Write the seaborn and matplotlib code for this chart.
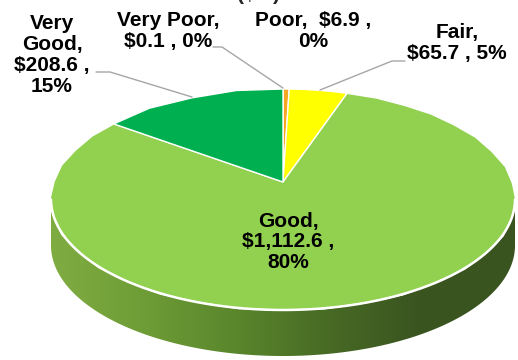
import numpy as np
import matplotlib
matplotlib.use("Agg")
import matplotlib.pyplot as plt
from matplotlib.patches import Polygon
from matplotlib.colors import LinearSegmentedColormap
import seaborn as sns

# ---- data ----
categories = ["Very Poor", "Poor", "Fair", "Good", "Very Good"]
values = [0.1, 6.9, 65.7, 1112.6, 208.6]
value_labels = ["$0.1", "$6.9", "$65.7", "$1,112.6", "$208.6"]
pct_labels = ["0%", "0%", "5%", "80%", "15%"]
colors = ["#E0301E", "#F5A623", "#FFFF00", "#92D050", "#00B050"]

sns.set_theme(style="white")
plt.rcParams["font.family"] = ["Liberation Sans", "DejaVu Sans"]

W, H = 518, 360
fig = plt.figure(figsize=(W / 100, H / 100), dpi=100)
ax = fig.add_axes([0, 0, 1, 1])

# ---- perspective view of the pie disc (layout only) ----
CX, CY = 283.0, 182.0      # image of disc centre
TOP, BOT = 89.0, 310.0     # image of far / near rim
HALFW = 232.0              # half of the widest extent
DEPTH = 46.0               # thickness of the side, px
K = (2 * CY - TOP - BOT) / (TOP - BOT)
P = TOP + TOP * K - CY
G = HALFW * np.sqrt(1 - K ** 2)


def persp(uv):
    uv = np.asarray(uv, dtype=float)
    u, v = uv[:, 0], uv[:, 1]
    d = 1 + K * v
    return np.column_stack([CX + G * u / d, (P * v + CY) / d])


# ---- top face built from the library's pie wedges ----
wedges, _ = ax.pie(values, colors=colors, startangle=90, counterclock=False,
                   radius=1)
for w, c in zip(wedges, colors):
    w.set_visible(False)
    poly = w.get_path().to_polygons()[0]
    ax.add_patch(Polygon(persp(poly), closed=True, facecolor=c,
                         edgecolor="white", linewidth=1.0, zorder=2))

# ---- side (front part, all inside 'Good') ----
a0 = np.pi + np.arcsin(K)
a1 = 2 * np.pi - np.arcsin(K)
th = np.linspace(a0, a1, 300)
rim = persp(np.column_stack([np.cos(th), np.sin(th)]))
low = rim[::-1] + np.array([0, DEPTH])
side = Polygon(np.vstack([rim, low]), closed=True, facecolor="none",
               edgecolor="none", zorder=1)
ax.add_patch(side)
cmap = LinearSegmentedColormap.from_list(
    "side", ["#80AD42", "#6E9C36", "#5A862C", "#476A24", "#3A5420", "#3B5521"])
grad = np.linspace(0, 1, 256).reshape(1, -1)
im = ax.imshow(grad, cmap=cmap, aspect="auto",
               extent=[rim[:, 0].min(), rim[:, 0].max(), H, 150], zorder=1,
               interpolation="bicubic")
im.set_clip_path(side)
ax.plot(rim[:, 0], rim[:, 1], color="white", lw=1.8, zorder=3,
        solid_capstyle="round")

ax.set_xlim(0, W)
ax.set_ylim(H, 0)
ax.set_aspect("auto")
ax.axis("off")

fs = 15
tk = dict(fontsize=fs, fontweight="bold", color="black", ha="center",
          va="center", linespacing=1.12, zorder=5)

ax.text(52, 55, "Very\nGood,\n" + value_labels[4] + " ,\n" + pct_labels[4], **tk)
ax.text(168, 31, "Very Poor,\n" + value_labels[0] + " , " + pct_labels[0], **tk)
ax.text(313, 31, "Poor,  " + value_labels[1] + " ,\n" + pct_labels[1], **tk)
ax.text(457, 43, "Fair,\n" + value_labels[2] + " , " + pct_labels[2], **tk)
ax.text(288, 242, "Good,\n" + value_labels[3] + " ,\n" + pct_labels[3], **tk)

# cut-off title at the very top (also cut in the original)
ax.text(258, 0.5, "($M)", fontsize=fs, fontweight="bold", ha="center",
        va="baseline", zorder=5)

# leader lines
lc = dict(color="#A6A6A6", lw=1.0, zorder=4)
for pts in ([(96, 72), (110, 72), (192, 97)],
            [(213, 47), (222, 47), (283, 88)],
            [(405, 61), (392, 61), (320, 90)]):
    xs, ys = zip(*pts)
    ax.plot(xs, ys, **lc)

fig.savefig("out.png", dpi=100, facecolor="white")
